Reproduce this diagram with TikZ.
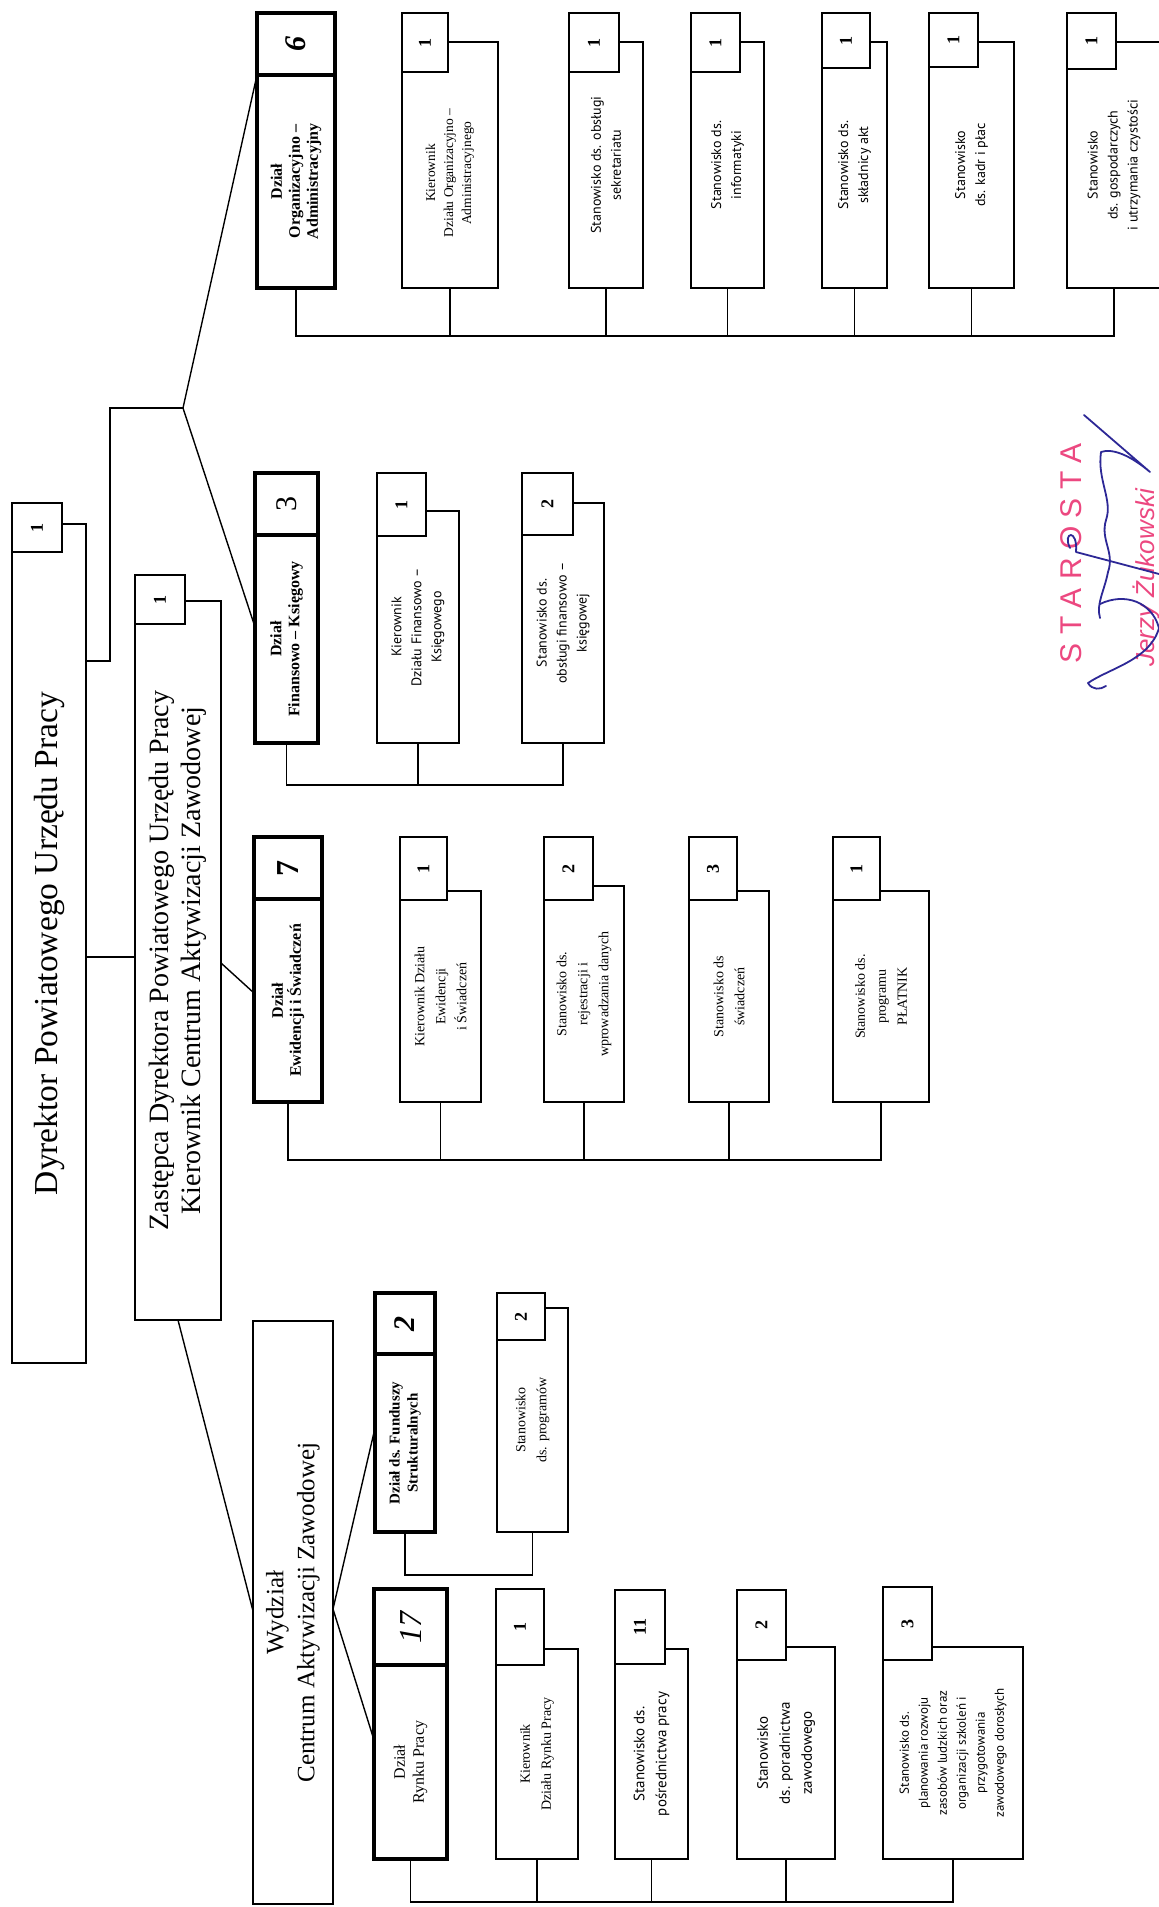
\documentclass[tikz,border=0pt]{standalone}
\usepackage{fontspec}
\setmainfont{Liberation Serif}
\newfontfamily\lblsans{PT Sans}
\newfontfamily\stampsans{Liberation Sans}
\usetikzlibrary{positioning}
\definecolor{stamppink}{RGB}{236,72,128}
\definecolor{inkblue}{RGB}{45,40,150}
\tikzset{
  box/.style={draw, fill=white, line width=1.4pt, inner sep=0pt, outer sep=0pt, anchor=north west},
  headbox/.style={box, line width=2.6pt},
  unitbox/.style={box, line width=3.2pt},
  sz/.style 2 args={minimum width=#1pt, minimum height=#2pt},
  link/.style={line width=1.4pt},
  txt/.style={rotate=90, align=center, inner sep=0pt, font=\fontsize{13}{18}\selectfont},
  txtsans/.style={txt, font=\lblsans\fontsize{14}{20}\selectfont},
  unittxt/.style={txt, font=\bfseries\fontsize{16}{18}\selectfont},
  cnt/.style={rotate=90, inner sep=0pt, font=\bfseries\fontsize{18}{18}\selectfont},
  bigcnt/.style={rotate=90, inner sep=0pt, font=\fontsize{30}{30}\selectfont},
  sign/.style={inkblue, line width=1.8pt, line cap=round, line join=round}
}
\begin{document}
\begin{tikzpicture}[x=1pt, y=-1pt]
\useasboundingbox (0,0) rectangle (1159,1907);
\clip (0,0) rectangle (1159,1907);

\node[headbox, sz={74}{839}] (dyr) at (12,524) {};
\node[headbox, sz={50}{49}, label={[cnt]center:1}] (dyrn) at (12,503) {};
\node[txt, font=\fontsize{33.5}{36}\selectfont] (dyrt) at (dyr) {Dyrektor Powiatowego Urzędu Pracy};

\node[headbox, sz={86}{719}] (zas) at (135,601) {};
\node[headbox, sz={50}{49}, label={[cnt]center:1}] (zasn) at (135,575) {};
\node[txt, font=\fontsize{28}{32}\selectfont] (zast) at (zas) {Zastępca Dyrektora Powiatowego Urzędu Pracy\\Kierownik Centrum Aktywizacji Zawodowej};

\node[headbox, sz={80}{583}] (wyd) at (253,1321) {};
\node[txt, font=\fontsize{25}{31}\selectfont] (wydt) at (wyd) {Wydział\\Centrum Aktywizacji Zawodowej};

\node[unitbox, sz={78}{213}] (orgD) at (257,75) {};
\node[unitbox, sz={78}{62}, label={[bigcnt, font=\bfseries\itshape\fontsize{30}{30}\selectfont]center:6}] (orgDn) at (257,13) {};
\node[unittxt] (orgDt) at (orgD) {Dział\\Organizacyjno –\\Administracyjny};
\node[box, sz={96}{246}] (orgK) at (402,42) {};
\node[box, sz={46}{59}, label={[cnt]center:1}] (orgKn) at (402,13) {};
\node[txt, font=\fontsize{13.5}{18}\selectfont] (orgKt) at ([yshift=-8pt]orgK) {Kierownik\\Działu Organizacyjno –\\Administracyjnego};
\node[box, sz={74}{246}] (orgS1) at (569,42) {};
\node[box, sz={50}{59}, label={[cnt]center:1}] (orgS1n) at (569,13) {};
\node[txtsans] (orgS1t) at (orgS1) {Stanowisko ds. obsługi\\sekretariatu};
\node[box, sz={73}{246}] (orgS2) at (691,42) {};
\node[box, sz={49}{59}, label={[cnt]center:1}] (orgS2n) at (691,13) {};
\node[txtsans] (orgS2t) at (orgS2) {Stanowisko ds.\\informatyki};
\node[box, sz={65}{246}] (orgS3) at (822,42) {};
\node[box, sz={48}{55}, label={[cnt]center:1}] (orgS3n) at (822,13) {};
\node[txtsans] (orgS3t) at (orgS3) {Stanowisko ds.\\składnicy akt};
\node[box, sz={85}{246}] (orgS4) at (929,42) {};
\node[box, sz={49}{54}, label={[cnt]center:1}] (orgS4n) at (929,13) {};
\node[txtsans] (orgS4t) at (orgS4) {Stanowisko\\ds. kadr i płac};
\node[box, sz={94}{246}] (orgS5) at (1067,42) {};
\node[box, sz={49}{56}, label={[cnt]center:1}] (orgS5n) at (1067,13) {};
\node[txtsans] (orgS5t) at (orgS5) {Stanowisko\\ds. gospodarczych\\i utrzymania czystości};

\node[unitbox, sz={63}{208}] (finD) at (255,535) {};
\node[unitbox, sz={63}{62}, label={[bigcnt]center:3}] (finDn) at (255,473) {};
\node[unittxt] (finDt) at (finD) {Dział\\Finansowo – Księgowy};
\node[box, sz={82}{232}] (finK) at (377,511) {};
\node[box, sz={49}{63}, label={[cnt]center:1}] (finKn) at (377,473) {};
\node[txtsans] (finKt) at (finK) {Kierownik\\Działu Finansowo –\\Księgowego};
\node[box, sz={82}{240}] (finS) at (522,503) {};
\node[box, sz={51}{62}, label={[cnt]center:2}] (finSn) at (522,473) {};
\node[txtsans] (finSt) at (finS) {Stanowisko ds.\\obsługi finansowo –\\księgowej};

\node[unitbox, sz={68}{203}] (ewiD) at (254,899) {};
\node[unitbox, sz={68}{62}, label={[bigcnt, font=\bfseries\fontsize{32}{32}\selectfont]center:7}] (ewiDn) at (254,837) {};
\node[unittxt] (ewiDt) at (ewiD) {Dział\\Ewidencji i Świadczeń};
\node[box, sz={81}{211}] (ewiK) at (400,891) {};
\node[box, sz={47}{63}, label={[cnt]center:1}] (ewiKn) at (400,837) {};
\node[txt, font=\fontsize{14}{21}\selectfont] (ewiKt) at (ewiK) {Kierownik Działu\\Ewidencji\\i Świadczeń};
\node[box, sz={80}{216}] (ewiS1) at (544,886) {};
\node[box, sz={49}{63}, label={[cnt]center:2}] (ewiS1n) at (544,837) {};
\node[txt, font=\fontsize{14}{21}\selectfont] (ewiS1t) at (ewiS1) {Stanowisko ds.\\rejestracji i\\wprowadzania danych};
\node[box, sz={80}{211}] (ewiS2) at (689,891) {};
\node[box, sz={48}{63}, label={[cnt]center:3}] (ewiS2n) at (689,837) {};
\node[txt, font=\fontsize{14}{21}\selectfont] (ewiS2t) at (ewiS2) {Stanowisko ds\\świadczeń};
\node[box, sz={96}{211}] (ewiS3) at (833,891) {};
\node[box, sz={47}{63}, label={[cnt]center:1}] (ewiS3n) at (833,837) {};
\node[txt, font=\fontsize{14}{21}\selectfont] (ewiS3t) at (ewiS3) {Stanowisko ds.\\programu\\PŁATNIK};

\node[unitbox, sz={60}{178}] (fsD) at (375,1354) {};
\node[unitbox, sz={60}{61}, label={[bigcnt, font=\bfseries\itshape\fontsize{30}{30}\selectfont]center:2}] (fsDn) at (375,1293) {};
\node[unittxt, font=\bfseries\fontsize{15}{18}\selectfont] (fsDt) at (fsD) {Dział ds. Funduszy\\Strukturalnych};
\node[box, sz={71}{224}] (fsS) at (497,1308) {};
\node[box, sz={48}{47}, label={[cnt]center:2}] (fsSn) at (497,1293) {};
\node[txt, font=\fontsize{14}{21}\selectfont] (fsSt) at (fsS) {Stanowisko\\ds. programów};

\node[unitbox, sz={73}{194}] (rynD) at (374,1665) {};
\node[unitbox, sz={73}{76}, label={[bigcnt, font=\itshape\fontsize{32}{32}\selectfont]center:17}] (rynDn) at (374,1589) {};
\node[txt, font=\fontsize{16}{19}\selectfont] (rynDt) at (rynD) {Dział\\Rynku Pracy};
\node[box, sz={82}{210}] (rynK) at (496,1649) {};
\node[box, sz={48}{76}, label={[cnt]center:1}] (rynKn) at (496,1589) {};
\node[txt, font=\fontsize{14}{21}\selectfont] (rynKt) at (rynK) {Kierownik\\Działu Rynku Pracy};
\node[box, sz={73}{210}] (rynS1) at (615,1649) {};
\node[box, sz={50}{74}, label={[cnt]center:11}] (rynS1n) at (615,1590) {};
\node[txtsans, font=\lblsans\fontsize{15}{22}\selectfont] (rynS1t) at (rynS1) {Stanowisko ds.\\pośrednictwa pracy};
\node[box, sz={98}{212}] (rynS2) at (737,1647) {};
\node[box, sz={49}{70}, label={[cnt]center:2}] (rynS2n) at (737,1590) {};
\node[txtsans, font=\lblsans\fontsize{15}{22}\selectfont] (rynS2t) at (rynS2) {Stanowisko\\ds. poradnictwa\\zawodowego};
\node[box, sz={140}{212}] (rynS3) at (883,1647) {};
\node[box, sz={49}{73}, label={[cnt]center:3}] (rynS3n) at (883,1587) {};
\node[txtsans, font=\lblsans\fontsize{13}{19}\selectfont] (rynS3t) at (rynS3) {Stanowisko ds.\\planowania rozwoju\\zasobów ludzkich oraz\\organizacji szkoleń i\\przygotowania\\zawodowego dorosłych};

\coordinate (brA) at (183,408);
\coordinate (brB) at (wyd.east |- 0,1609);
\draw[link] (dyr.east |- 0,661) -| (110,408) -- (brA);
\draw[link] (brA) -- (orgDn.south west);
\draw[link] (brA) -- (finD.west |- 0,627);
\draw[link] (dyr.east |- 0,957) -- (zas.west |- 0,957);
\draw[link] (zas.east |- 0,963) -- (ewiD.west |- 0,993);
\draw[link] (zas.south) -- (wyd.west |- 0,1611);
\draw[link] (brB) -- (fsD.west |- 0,1428);
\draw[link] (brB) -- (rynD.west |- 0,1740);

\draw[link] (orgD.south) -- ++(0,48) -| (orgS5.south);
\draw[link] (orgK.south) -- ++(0,48);
\draw[link] (orgS1.south) -- ++(0,48);
\draw[link] (orgS2.south) -- ++(0,48);
\draw[link] (orgS3.south) -- ++(0,48);
\draw[link] (orgS4.south) -- ++(0,48);

\draw[link] (finD.south) -- ++(0,42) -| (finS.south);
\draw[link] (finK.south) -- ++(0,42);

\draw[link] (ewiD.south) -- ++(0,58) -| (ewiS3.south);
\draw[link] (ewiK.south) -- ++(0,58);
\draw[link] (ewiS1.south) -- ++(0,58);
\draw[link] (ewiS2.south) -- ++(0,58);

\draw[link] (fsD.south) -- ++(0,43) -| (fsS.south);

\draw[link] (rynD.south) -- ++(0,43) -| (rynS3.south);
\draw[link] (rynK.south) -- ++(0,43);
\draw[link] (rynS1.south) -- ++(0,43);
\draw[link] (rynS2.south) -- ++(0,43);

\node[rotate=90, inner sep=0pt, text=stamppink, font=\stampsans\fontsize{30}{30}\selectfont] (stamp) at (1071,553) {S T A R O S T A};
\node[rotate=90, inner sep=0pt, text=stamppink, font=\stampsans\itshape\fontsize{26}{26}\selectfont] (stampname) at (1146,578) {Jerzy Żukowski};

\draw[sign] (1084,415) -- (1150,472) .. controls (1130,455) and (1112,448) .. (1101,452)
  .. controls (1097,480) and (1113,500) .. (1106,520) .. controls (1100,540) and (1115,552) .. (1108,572)
  .. controls (1104,592) and (1096,604) .. (1100,618);
\draw[sign] (1070,548) .. controls (1062,532) and (1078,528) .. (1076,552) -- (1159,574);
\draw[sign] (1100,604) .. controls (1125,592) and (1152,602) .. (1159,628)
  .. controls (1150,660) and (1110,668) .. (1088,683) .. controls (1092,690) and (1100,690) .. (1106,686);
\end{tikzpicture}
\end{document}
